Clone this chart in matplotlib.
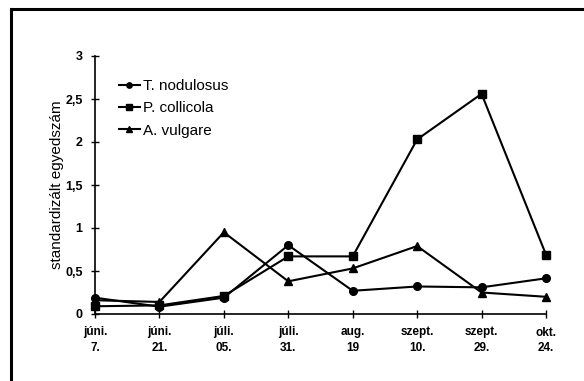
import matplotlib
matplotlib.use("Agg")
import matplotlib.pyplot as plt
from matplotlib.lines import Line2D
from matplotlib.ticker import FixedLocator, FuncFormatter

dates = ["júni.\n7.", "júni.\n21.", "júli.\n05.", "júli.\n31.", "aug.\n19", "szept.\n10.", "szept.\n29.", "okt.\n24."]
t_nodulosus = [0.19, 0.085, 0.19, 0.80, 0.27, 0.32, 0.31, 0.415]
p_collicola = [0.09, 0.10, 0.21, 0.67, 0.67, 2.03, 2.56, 0.69]
a_vulgare = [0.16, 0.14, 0.95, 0.38, 0.53, 0.79, 0.25, 0.20]
yticks = [0, 0.5, 1, 1.5, 2, 2.5, 3]

plt.rcParams['font.family'] = ['Liberation Sans', 'DejaVu Sans']

fig = plt.figure(figsize=(5.84, 3.81), dpi=100)
ax = fig.add_axes([95/584, 1-314/381, (546-95)/584, (314-56)/381])

x = list(range(len(dates)))
ax.plot(x, t_nodulosus, color='black', lw=1.5, marker='o', ms=5.5, label='T. nodulosus', clip_on=False)
ax.plot(x, p_collicola, color='black', lw=1.5, marker='s', ms=5.5, label='P. collicola', clip_on=False)
ax.plot(x, a_vulgare, color='black', lw=1.5, marker='^', ms=6, label='A. vulgare', clip_on=False)

ax.set_xlim(0, 7)
ax.set_ylim(0, 3)
ax.set_xticks(x)
ax.set_xticklabels(dates, fontsize=8.5, fontweight='bold', linespacing=1.35)
ax.yaxis.set_major_locator(FixedLocator(yticks))
ax.yaxis.set_major_formatter(FuncFormatter(lambda v, p: ('%g' % v).replace('.', ',')))
for lab in ax.get_yticklabels():
    lab.set_fontweight('bold')
ax.tick_params(axis='y', direction='inout', length=6, width=1, labelsize=9, pad=6)
ax.tick_params(axis='x', direction='inout', length=6, width=1, pad=6)
for s in ['top', 'right']:
    ax.spines[s].set_visible(False)
for s in ['left', 'bottom']:
    ax.spines[s].set_linewidth(1.2)
ax.set_ylabel('standardizált egyedszám', fontsize=11, va='center')
ax.yaxis.set_label_coords(-0.084, 0.5)

leg = ax.legend(loc='upper left', bbox_to_anchor=(0.04, 0.935), frameon=False, fontsize=11,
                handlelength=1.35, handletextpad=0.2, labelspacing=0.55, markerscale=0.7, borderaxespad=0)

fig.add_artist(Line2D([11/584, 11/584], [0, 1-9/381], color='black', lw=2.2, transform=fig.transFigure))
fig.add_artist(Line2D([11/584, 1], [1-9/381, 1-9/381], color='black', lw=2.2, transform=fig.transFigure))

fig.savefig('out.png', dpi=100)
